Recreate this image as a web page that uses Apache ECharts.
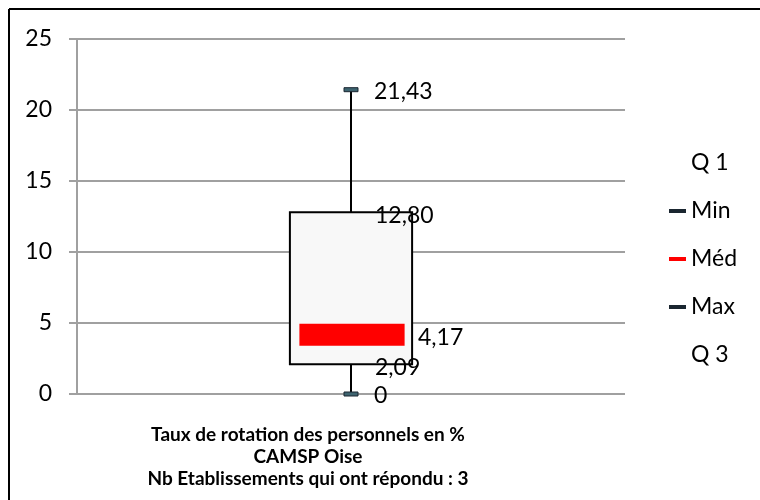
<!DOCTYPE html>
<html><head><meta charset="utf-8">
<script src="https://cdn.jsdelivr.net/npm/echarts@6/dist/echarts.min.js"></script>
<style>html,body{margin:0;padding:0;background:#fff}#c{width:760px;height:500px}</style>
</head><body><div id="c"></div>
<script>
var categories = ['Taux de rotation'];
var minVals = [0];
var q1Vals = [2.09];
var medVals = [4.17];
var q3Vals = [12.80];
var maxVals = [21.43];
var yTicks = [0, 5, 10, 15, 20, 25];
var legendNames = ['Q 1', 'Min', 'Méd', 'Max', 'Q 3'];
var titleLines = ['Taux de rotation des personnels en %', 'CAMSP Oise', 'Nb Etablissements qui ont répondu : 3'];

var FONT = 'Lato';
function fmt(v){ return v === 0 ? '0' : v.toFixed(2).replace('.', ','); }
var labelStyle = {fontFamily: FONT, fontSize: 23, fill: '#000'};

var chart = echarts.init(document.getElementById('c'), null, {renderer: 'canvas'});

function capItem(vals){
  return function(params, api){
    var i = params.dataIndex;
    var p = api.coord([i, vals[i]]);
    return {type: 'group', children: [
      {type: 'rect', shape: {x: p[0] - 7, y: p[1] - 2, width: 14, height: 4},
       style: {fill: '#3e6470', stroke: '#1a2630', lineWidth: 1}},
      {type: 'text', x: p[0] + 23, y: p[1] + 2,
       style: Object.assign({text: fmt(vals[i]), textVerticalAlign: 'middle'}, labelStyle)}
    ]};
  };
}

var option = {
  animation: false,
  backgroundColor: '#fff',
  grid: {left: 77, right: 135, top: 39, bottom: 106},
  xAxis: {type: 'category', data: categories, axisLine: {show: false}, axisTick: {show: false}, axisLabel: {show: false}},
  yAxis: {
    type: 'value', min: yTicks[0], max: yTicks[yTicks.length - 1], interval: 5,
    axisLine: {show: true, lineStyle: {color: '#a0a0a0', width: 2}},
    axisTick: {show: true, length: 8, lineStyle: {color: '#a0a0a0', width: 2}},
    axisLabel: {fontFamily: FONT, fontSize: 23, color: '#000', margin: 25},
    splitLine: {lineStyle: {color: '#a0a0a0', width: 2}}
  },
  legend: {
    orient: 'vertical', left: 664, top: 146, itemGap: 24, itemWidth: 17, itemHeight: 4,
    textStyle: {fontFamily: FONT, fontSize: 23, color: '#000', lineHeight: 24},
    data: [
      {name: 'Q 1', icon: 'none'},
      {name: 'Min', icon: 'rect', itemStyle: {color: '#1a2630'}},
      {name: 'Méd', icon: 'rect', itemStyle: {color: '#ff0000'}},
      {name: 'Max', icon: 'rect', itemStyle: {color: '#1a2630'}},
      {name: 'Q 3', icon: 'none'}
    ]
  },
  graphic: [
    {type: 'line', shape: {x1: 9, y1: 9, x2: 760, y2: 9}, style: {stroke: '#000', lineWidth: 2}, z: 100},
    {type: 'line', shape: {x1: 9, y1: 9, x2: 9, y2: 500}, style: {stroke: '#000', lineWidth: 2}, z: 100},
    {type: 'text', x: 308, y: 424, style: {text: titleLines.join('\n'), fontFamily: FONT, fontWeight: 'bold', fontSize: 19, lineHeight: 22, fill: '#000', textAlign: 'center'}}
  ],
  series: [
    {
      name: 'Q 1', type: 'custom', data: q1Vals, z: 3,
      renderItem: function(params, api){
        var i = params.dataIndex;
        var band = api.size([1, 0])[0];
        var w = band * 0.223;
        var pMin = api.coord([i, minVals[i]]);
        var pMax = api.coord([i, maxVals[i]]);
        var pQ1 = api.coord([i, q1Vals[i]]);
        var pQ3 = api.coord([i, q3Vals[i]]);
        var x = pQ1[0];
        return {type: 'group', children: [
          {type: 'line', shape: {x1: x, y1: pMax[1], x2: x, y2: pQ3[1]}, style: {stroke: '#000', lineWidth: 2}},
          {type: 'line', shape: {x1: x, y1: pQ1[1], x2: x, y2: pMin[1]}, style: {stroke: '#000', lineWidth: 2}},
          {type: 'rect', shape: {x: x - w / 2, y: pQ3[1], width: w, height: pQ1[1] - pQ3[1]}, style: {fill: '#f8f8f8', stroke: '#000', lineWidth: 2}},
          {type: 'text', x: x + 24, y: pQ1[1] + 3, style: Object.assign({text: fmt(q1Vals[i]), textVerticalAlign: 'middle'}, labelStyle)}
        ]};
      }
    },
    {name: 'Min', type: 'custom', data: minVals, z: 4, renderItem: capItem(minVals)},
    {
      name: 'Méd', type: 'custom', data: medVals, z: 5, itemStyle: {color: '#ff0000'},
      renderItem: function(params, api){
        var i = params.dataIndex;
        var band = api.size([1, 0])[0];
        var w = band * 0.192;
        var p = api.coord([i, medVals[i]]);
        return {type: 'group', children: [
          {type: 'rect', shape: {x: p[0] - w / 2 + 1, y: p[1] - 11, width: w, height: 22}, style: {fill: '#ff0000'}},
          {type: 'text', x: p[0] + 67, y: p[1] + 3, style: Object.assign({text: fmt(medVals[i]), textVerticalAlign: 'middle'}, labelStyle)}
        ]};
      }
    },
    {name: 'Max', type: 'custom', data: maxVals, z: 4, renderItem: capItem(maxVals)},
    {
      name: 'Q 3', type: 'custom', data: q3Vals, z: 6,
      renderItem: function(params, api){
        var i = params.dataIndex;
        var p = api.coord([i, q3Vals[i]]);
        return {type: 'text', x: p[0] + 24, y: p[1] + 3, style: Object.assign({text: fmt(q3Vals[i]), textVerticalAlign: 'middle'}, labelStyle)};
      }
    }
  ]
};
chart.setOption(option);
</script></body></html>
